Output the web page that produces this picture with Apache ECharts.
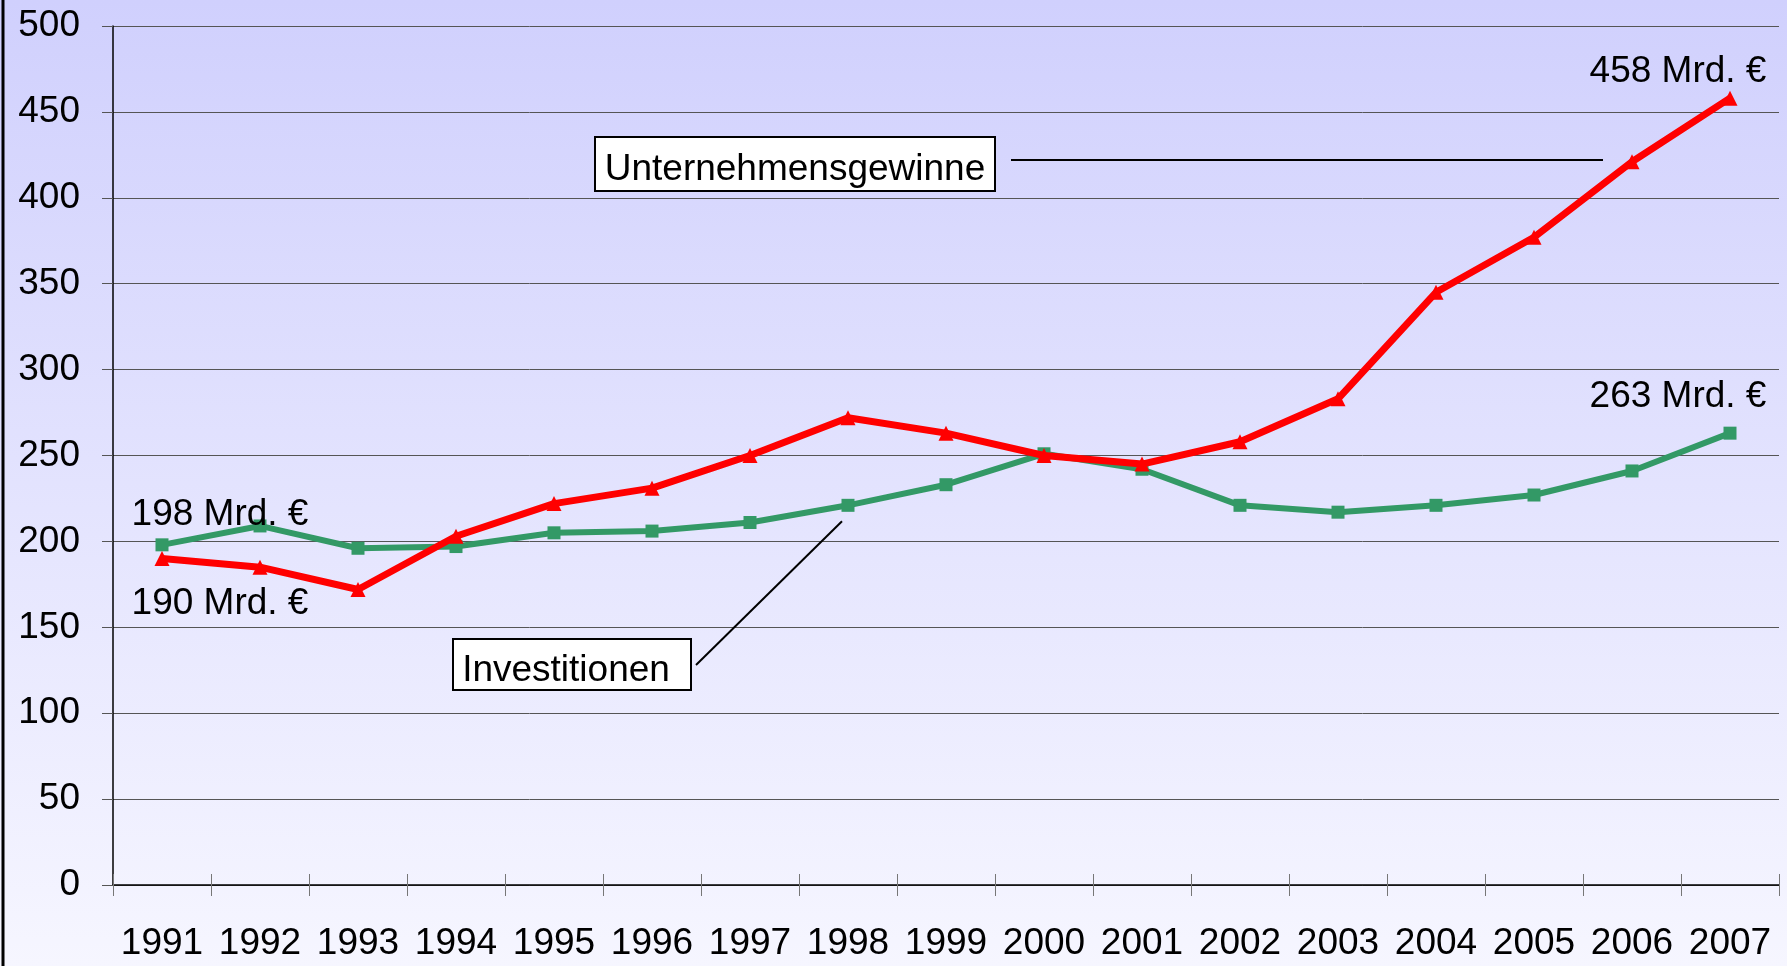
<!DOCTYPE html>
<html>
<head>
<meta charset="utf-8">
<script src="https://cdn.jsdelivr.net/npm/echarts@6/dist/echarts.min.js"></script>
<style>
html,body{margin:0;padding:0;width:1787px;height:966px;overflow:hidden;}
#c{width:1787px;height:966px;}
</style>
</head>
<body>
<div id="c"></div>
<script>
const years = ['1991','1992','1993','1994','1995','1996','1997','1998','1999','2000','2001','2002','2003','2004','2005','2006','2007'];
const gewinne = [190,185,172,203,222,231,250,272,263,250,245,258,283,345,377,421,458];
const investitionen = [198,209,196,197,205,206,211,221,233,251,242,221,217,221,227,241,263];
const yTicks = {min:0, max:500, interval:50};
const labelGewinne = 'Unternehmensgewinne';
const labelInvest = 'Investitionen';
const unit = ' Mrd. €';

const FONT = '"Liberation Sans", Arial, sans-serif';
const FS = 37;
const chart = echarts.init(document.getElementById('c'), null, {renderer:'canvas'});

function withLabels(arr, labels){
  return arr.map((v,i)=>{
    if(labels[i]) return {value:v, label:Object.assign({show:true, position:'inside', formatter:p=>p.value+unit, fontSize:FS, fontFamily:FONT, color:'#000'}, labels[i])};
    return v;
  });
}
const gl = {}; gl[0] = {offset:[58,45]}; gl[gewinne.length-1] = {offset:[-52,-26]};
const il = {}; il[0] = {offset:[58,-30]}; il[investitionen.length-1] = {offset:[-52,-36]};

chart.setOption({
  animation:false,
  backgroundColor:{type:'linear',x:0,y:0,x2:0,y2:1,colorStops:[{offset:0,color:'#d0d0fd'},{offset:1,color:'#f6f6ff'}]},
  grid:{left:113,right:8,top:26,bottom:81,containLabel:false},
  xAxis:[{
    type:'category', data:years, boundaryGap:true,
    axisLine:{show:true,lineStyle:{color:'#000',width:1.5}},
    axisTick:{show:true,length:11,lineStyle:{color:'#777',width:1}},
    axisLabel:{interval:0,fontSize:FS,fontFamily:FONT,color:'#000',margin:40},
    splitLine:{show:false}
  },{
    type:'category', data:years, boundaryGap:true, position:'bottom',
    axisLine:{show:false},
    axisTick:{show:true,inside:true,length:11,lineStyle:{color:'#777',width:1}},
    axisLabel:{show:false}, splitLine:{show:false}
  }],
  yAxis:{
    type:'value', min:yTicks.min, max:yTicks.max, interval:yTicks.interval,
    axisLine:{show:true,lineStyle:{color:'#000',width:1.5}},
    axisTick:{show:true,length:11,lineStyle:{color:'#555',width:1}},
    axisLabel:{fontSize:FS,fontFamily:FONT,color:'#000',margin:33,padding:[8,0,0,0]},
    splitLine:{show:true,lineStyle:{color:'#555',width:1}}
  },
  series:[{
    name:labelInvest, type:'line', xAxisIndex:0,
    data:withLabels(investitionen, il),
    symbol:'rect', symbolSize:13,
    itemStyle:{color:'#339966'}, lineStyle:{color:'#339966',width:6},
    z:3
  },{
    name:labelGewinne, type:'line', xAxisIndex:0,
    data:withLabels(gewinne, gl),
    symbol:'triangle', symbolSize:15,
    itemStyle:{color:'#ff0000'}, lineStyle:{color:'#ff0000',width:7},
    z:4
  }]
});

const pG = chart.convertToPixel({xAxisIndex:0,yAxisIndex:0},[15,gewinne[15]]);
const pI = chart.convertToPixel({xAxisIndex:0,yAxisIndex:0},[7,investitionen[7]]);

chart.setOption({
  graphic:[
    {type:'line', shape:{x1:3,y1:0,x2:3,y2:966}, style:{stroke:'#000',lineWidth:3}, z:100},
    {type:'rect', shape:{x:595,y:137,width:400,height:54}, style:{fill:'#fff',stroke:'#000',lineWidth:2}, z:100},
    {type:'text', x:795, y:170, style:{text:labelGewinne,fontSize:FS,fontFamily:FONT,fill:'#000',align:'center',verticalAlign:'middle'}, z:101},
    {type:'line', shape:{x1:1011,y1:160,x2:pG[0]-29,y2:160}, style:{stroke:'#000',lineWidth:2}, z:100},
    {type:'rect', shape:{x:453,y:639,width:238,height:51}, style:{fill:'#fff',stroke:'#000',lineWidth:2}, z:100},
    {type:'text', x:566, y:671, style:{text:labelInvest,fontSize:FS,fontFamily:FONT,fill:'#000',align:'center',verticalAlign:'middle'}, z:101},
    {type:'line', shape:{x1:696,y1:665,x2:pI[0]-6,y2:pI[1]+16}, style:{stroke:'#000',lineWidth:2}, z:100}
  ]
});
</script>
</body>
</html>
